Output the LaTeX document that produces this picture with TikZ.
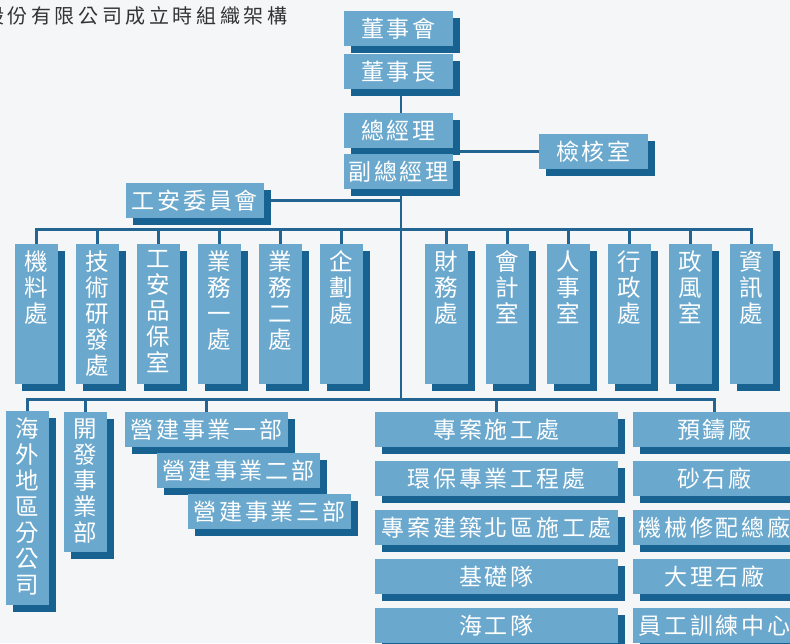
\documentclass[tikz,border=0pt]{standalone}
\usepackage{fontspec}
\setmainfont{Noto Sans CJK TC}
\newfontfamily\cjkspaced{Noto Sans CJK TC}[LetterSpace=12]
\newfontfamily\cjktitle{Noto Sans CJK TC}[LetterSpace=18]
\newfontfamily\cjkplain{Noto Sans CJK TC}
\usetikzlibrary{shadows,backgrounds}
\definecolor{boxblue}{HTML}{6AA8CD}
\definecolor{shadeblue}{HTML}{186292}
\definecolor{lineblue}{HTML}{236592}
\definecolor{bgpaper}{HTML}{F4F6F8}
\definecolor{titlegray}{HTML}{333333}
\newcommand{\vstack}[2]{\parbox[c][#1][t]{43pt}{\centering\vspace*{6.5pt}#2\par}}
\begin{document}
\begin{tikzpicture}[x=1pt,y=-1pt,
  orgbox/.style={fill=boxblue, text=white, inner sep=0pt,
    general shadow={fill=shadeblue, shadow xshift=7pt, shadow yshift=-7pt}},
  hbox/.style={orgbox, minimum height=35pt, font=\cjkspaced\fontsize{23}{25.5}\selectfont},
  vbox/.style={orgbox, minimum width=43pt, font=\cjkplain\fontsize{23.5}{26}\selectfont},
  link/.style={draw=lineblue, line width=2.6pt, line join=miter}
]
\useasboundingbox (0,0) rectangle (790,643);
\begin{pgfonlayer}{background}
\fill[bgpaper] (0,0) rectangle (790,643);
\end{pgfonlayer}
\clip (0,0) rectangle (790,643);

% title
\node[anchor=west, inner sep=0pt, text=titlegray, font=\cjktitle\fontsize{20}{20}\selectfont] (title) at (-16,16) {股份有限公司成立時組織架構};

% top management
\node[hbox, minimum width=109pt] (dsh) at (398.5,28.5) {董事會};
\node[hbox, minimum width=109pt] (dsz) at (398.5,71.5) {董事長};
\node[hbox, minimum width=109pt] (zjl) at (398.5,130.5) {總經理};
\node[hbox, minimum width=109pt] (fzjl) at (398.5,171.5) {副總經理};
\node[hbox, minimum width=109pt] (jhs) at (593.5,151.5) {檢核室};
\node[hbox, minimum width=138pt] (gaw) at (195,200.5) {工安委員會};

% first row of departments
\node[vbox, minimum height=140pt] (jl) at (36.5,314) {\vstack{140pt}{機\\料\\處}};
\node[vbox, minimum height=140pt] (js) at (97.5,314) {\vstack{140pt}{技\\術\\研\\發\\處}};
\node[vbox, minimum height=140pt] (ga) at (158.5,314) {\vstack{140pt}{工\\安\\品\\保\\室}};
\node[vbox, minimum height=140pt] (yw1) at (219.5,314) {\vstack{140pt}{業\\務\\一\\處}};
\node[vbox, minimum height=140pt] (yw2) at (280.5,314) {\vstack{140pt}{業\\務\\二\\處}};
\node[vbox, minimum height=140pt] (qh) at (341.5,314) {\vstack{140pt}{企\\劃\\處}};
\node[vbox, minimum height=140pt] (cw) at (446.5,314) {\vstack{140pt}{財\\務\\處}};
\node[vbox, minimum height=140pt] (kj) at (507.5,314) {\vstack{140pt}{會\\計\\室}};
\node[vbox, minimum height=140pt] (rs) at (568.5,314) {\vstack{140pt}{人\\事\\室}};
\node[vbox, minimum height=140pt] (xz) at (629.5,314) {\vstack{140pt}{行\\政\\處}};
\node[vbox, minimum height=140pt] (zf) at (690.5,314) {\vstack{140pt}{政\\風\\室}};
\node[vbox, minimum height=140pt] (zx) at (751.5,314) {\vstack{140pt}{資\\訊\\處}};

% second row
\node[vbox, minimum height=194pt] (hw) at (27.5,508) {\vstack{194pt}{海\\外\\地\\區\\分\\公\\司}};
\node[vbox, minimum height=140pt] (kf) at (85.5,482) {\vstack{140pt}{開\\發\\事\\業\\部}};
\node[hbox, minimum width=163pt] (yj1) at (206.5,429.5) {營建事業一部};
\node[hbox, minimum width=163pt] (yj2) at (238.5,470.5) {營建事業二部};
\node[hbox, minimum width=163pt] (yj3) at (269.5,511.5) {營建事業三部};

\node[hbox, minimum width=243pt] (zas) at (496.5,429.5) {專案施工處};
\node[hbox, minimum width=243pt] (hb) at (496.5,478.5) {環保專業工程處};
\node[hbox, minimum width=243pt] (bq) at (496.5,527.5) {專案建築北區施工處};
\node[hbox, minimum width=243pt] (jc) at (496.5,576.5) {基礎隊};
\node[hbox, minimum width=243pt] (hg) at (496.5,625.5) {海工隊};

\node[hbox, minimum width=163pt] (yz) at (714.5,429.5) {預鑄廠};
\node[hbox, minimum width=163pt] (ss) at (714.5,478.5) {砂石廠};
\node[hbox, minimum width=163pt] (jx) at (714.5,527.5) {機械修配總廠};
\node[hbox, minimum width=163pt] (dl) at (714.5,576.5) {大理石廠};
\node[hbox, minimum width=163pt] (yg) at (714.5,625.5) {員工訓練中心};

\coordinate (busA) at (401,229.5);
\coordinate (busB) at (401,399.5);

\begin{pgfonlayer}{background}
\draw[link] (dsz.south -| busA) -- (zjl.north -| busA);
\draw[link] (fzjl.south -| busA) -- (busB);
\draw[link] (busA |- jhs.west) -- (jhs.west);
\draw[link] (gaw.east) -- (gaw.east -| busA);
\draw[link] (jl.north) |- (busA) -| (zx.north);
\foreach \n in {js,ga,yw1,yw2,qh,cw,kj,rs,xz,zf}
  \draw[link] (\n.north) -- (\n.north |- busA);
\draw[link] (hw.north) |- (busB) -| (yz.north);
\foreach \n in {kf,yj1,zas}
  \draw[link] (\n.north) -- (\n.north |- busB);
\end{pgfonlayer}
\end{tikzpicture}
\end{document}
